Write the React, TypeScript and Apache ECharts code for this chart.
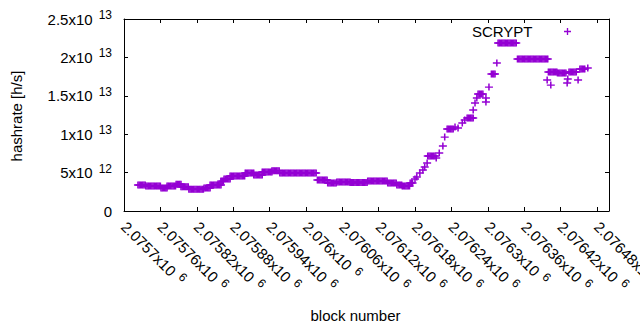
import React, { useEffect, useRef } from "react";
import * as echarts from "echarts";

// ---- data ----
const xMin = 2075700;
const xMax = 2076500;
const xStep = 60;
const yMin = 0;
const yMax = 2.5e13;
const yStep = 5e12;

const seriesName = "SCRYPT";
const xTitle = "block number";
const yTitle = "hashrate [h/s]";

// stretches of consecutive blocks with (nearly) constant hashrate: [fromBlock, toBlock, hashrate]
const runs: [number, number, number][] = [
  [2075723, 2075736, 3.39e12],
  [2075736, 2075761, 3.26e12],
  [2075761, 2075771, 3.0e12],
  [2075771, 2075786, 3.26e12],
  [2075786, 2075794, 3.48e12],
  [2075794, 2075807, 3.16e12],
  [2075807, 2075832, 2.83e12],
  [2075832, 2075842, 3.0e12],
  [2075842, 2075860, 3.39e12],
  [2075860, 2075865, 3.9e12],
  [2075865, 2075875, 4.17e12],
  [2075875, 2075900, 4.56e12],
  [2075900, 2075914, 4.95e12],
  [2075914, 2075928, 4.69e12],
  [2075928, 2075944, 5.08e12],
  [2075944, 2075957, 5.25e12],
  [2075957, 2076017, 4.95e12],
  [2076019, 2076036, 4.04e12],
  [2076036, 2076051, 3.65e12],
  [2076051, 2076073, 3.78e12],
  [2076073, 2076102, 3.71e12],
  [2076102, 2076135, 3.9e12],
  [2076135, 2076150, 3.65e12],
  [2076150, 2076159, 3.39e12],
  [2076159, 2076172, 3.26e12],
  [2076172, 2076177, 3.65e12],
  [2076201, 2076213, 7.16e12],
  [2076233, 2076243, 1.068e13],
  [2076266, 2076276, 1.211e13],
  [2076284, 2076292, 1.523e13],
  [2076306, 2076313, 1.784e13],
  [2076317, 2076348, 2.187e13],
  [2076349, 2076399, 1.979e13],
  [2076400, 2076414, 1.81e13],
  [2076415, 2076430, 1.797e13],
  [2076434, 2076446, 1.81e13],
  [2076452, 2076460, 1.849e13],
];
const runStep = 2;

// isolated blocks: [block, hashrate]
const points: [number, number][] = [
  [2076180, 4.17e12],
  [2076183, 4.43e12],
  [2076188, 4.95e12],
  [2076193, 5.34e12],
  [2076196, 5.73e12],
  [2076200, 6.25e12],
  [2076215, 6.9e12],
  [2076220, 7.55e12],
  [2076226, 8.46e12],
  [2076229, 9.63e12],
  [2076246, 1.094e13],
  [2076251, 1.081e13],
  [2076258, 1.146e13],
  [2076262, 1.185e13],
  [2076276, 1.315e13],
  [2076279, 1.406e13],
  [2076282, 1.471e13],
  [2076297, 1.471e13],
  [2076297, 1.419e13],
  [2076302, 1.614e13],
  [2076315, 1.927e13],
  [2076398, 1.706e13],
  [2076404, 1.64e13],
  [2076432, 1.719e13],
  [2076431, 1.667e13],
  [2076449, 1.706e13],
  [2076465, 1.862e13],
];

const FONT = "'Liberation Sans', Arial, sans-serif";
const PURPLE = "#9400d3";
const PLUS =
  "path://M-0.19,-1H0.19V-0.19H1V0.19H0.19V1H-0.19V0.19H-1V-0.19H-0.19Z";

function buildData(): [number, number][] {
  const out: [number, number][] = [];
  for (const [a, b, v] of runs) {
    for (let k = a; k <= b; k += runStep) out.push([k, v]);
  }
  for (const p of points) out.push(p);
  return out;
}

function fmtX(v: number): string {
  const m = parseFloat((v / 1e6).toFixed(6)).toString();
  return `{b|${m}x10}{s|6}`;
}

function fmtY(v: number): string {
  if (v === 0) return "{b|0}";
  const e = Math.floor(Math.log10(v) + 1e-9);
  const m = parseFloat((v / Math.pow(10, e)).toFixed(3)).toString();
  return `{b|${m}x10}{s|${e}}`;
}

const rich = {
  b: { fontSize: 15, lineHeight: 20, fontFamily: FONT, color: "#000" },
  s: {
    fontSize: 12,
    fontFamily: FONT,
    color: "#000",
    verticalAlign: "top",
    padding: [0, 0, 0, 6],
  },
};

export default function App() {
  const ref = useRef<HTMLDivElement>(null);
  useEffect(() => {
    if (!ref.current) return;
    const chart = echarts.init(ref.current, undefined, { renderer: "svg" });
    const axisLine = { show: true, onZero: false, lineStyle: { color: "#000", width: 1 } };
    const axisTick = { show: true, inside: true, length: 4, lineStyle: { color: "#000", width: 1 } };
    chart.setOption({
      animation: false,
      backgroundColor: "#fff",
      grid: {
        left: 124,
        top: 19,
        width: 485,
        height: 192,
        containLabel: false,
        outerBoundsMode: "none",
      },
      legend: {
        data: [{ name: seriesName, icon: PLUS }],
        align: "right",
        right: 69,
        top: 24,
        padding: 0,
        itemWidth: 8,
        itemHeight: 7,
        selectedMode: false,
        textStyle: { fontSize: 15, fontFamily: FONT, color: "#000", padding: [0, 26, 0, 0] },
      },
      xAxis: [
        {
          type: "value",
          position: "bottom",
          min: xMin,
          max: xMax,
          interval: xStep,
          axisLine,
          axisTick,
          splitLine: { show: false },
          axisLabel: {
            rotate: -45,
            margin: 13,
            showMaxLabel: false,
            hideOverlap: false,
            formatter: fmtX,
            rich,
          },
        },
        {
          type: "value",
          position: "top",
          min: xMin,
          max: xMax,
          interval: xStep,
          axisLine,
          axisTick,
          splitLine: { show: false },
          axisLabel: { show: false },
        },
      ],
      yAxis: [
        {
          type: "value",
          position: "left",
          min: yMin,
          max: yMax,
          interval: yStep,
          axisLine,
          axisTick,
          splitLine: { show: false },
          axisLabel: { margin: 12, formatter: fmtY, rich },
        },
        {
          type: "value",
          position: "right",
          min: yMin,
          max: yMax,
          interval: yStep,
          axisLine,
          axisTick,
          splitLine: { show: false },
          axisLabel: { show: false },
        },
      ],
      graphic: [
        {
          type: "text",
          x: 355.5,
          y: 315,
          style: {
            text: xTitle,
            align: "center",
            verticalAlign: "middle",
            font: `15px ${FONT}`,
            fill: "#000",
          },
        },
        {
          type: "text",
          x: 16,
          y: 116,
          rotation: Math.PI / 2,
          style: {
            text: yTitle,
            align: "center",
            verticalAlign: "middle",
            font: `15px ${FONT}`,
            fill: "#000",
          },
        },
      ],
      series: [
        {
          name: seriesName,
          type: "scatter",
          xAxisIndex: 0,
          yAxisIndex: 0,
          symbol: PLUS,
          symbolSize: [8, 7],
          itemStyle: { color: PURPLE, opacity: 1 },
          emphasis: { disabled: true },
          data: buildData(),
        },
      ],
    });
    return () => chart.dispose();
  }, []);
  return (
    <div
      ref={ref}
      style={{ position: "fixed", left: 0, top: 0, width: 640, height: 330 }}
    />
  );
}
